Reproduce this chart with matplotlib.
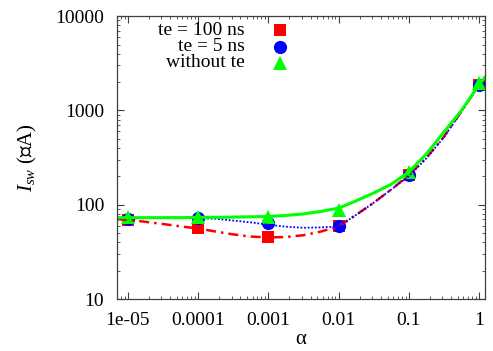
import numpy as np
import matplotlib
matplotlib.use('Agg')
import matplotlib.pyplot as plt
from matplotlib.ticker import LogLocator, NullFormatter, FixedLocator, FixedFormatter

plt.rcParams['font.family'] = ['Liberation Serif', 'DejaVu Serif']
plt.rcParams['mathtext.fontset'] = 'custom'
plt.rcParams['mathtext.it'] = 'Liberation Serif:italic'
plt.rcParams['mathtext.rm'] = 'Liberation Serif'

colors = {
    'te100': '#FF0000',
    'te5': '#0000FF',
    'none': '#00FF00',
    'frame': '#404040',
}

# measured points
alpha = [1e-5, 1e-4, 1e-3, 1e-2, 1e-1, 1]
alpha_labels = ['1e-05', '0.0001', '0.001', '0.01', '0.1', '1']
isw_te100 = [69, 57, 45, 59, 206, 1860]
isw_te5 = [70.5, 72, 64, 59, 206, 1860]
isw_none = [74, 74, 74, 88, 222, 1950]

# fitted curves at quarter decades
curve_x = [7e-6, 1e-5, 1.78e-5, 3.16e-5, 5.62e-5, 1e-4, 1.78e-4, 3.16e-4, 5.62e-4,
           1e-3, 1.78e-3, 3.16e-3, 5.62e-3, 1e-2, 1.78e-2, 3.16e-2, 5.62e-2,
           0.1, 0.178, 0.316, 0.562, 1.0, 1.22]
curve_te100 = [70.5, 69, 66, 62.5, 59, 56, 52, 48.5, 46,
               45, 45.5, 47.5, 52, 59, 78, 105, 145,
               206, 315, 525, 980, 1860, 2200]
curve_te5 = [71, 71.5, 72, 72, 72, 72, 71, 68, 65,
             61.5, 58.5, 57, 57.5, 59, 78, 105, 145,
             201, 310, 520, 970, 1860, 2200]
curve_none = [73, 73, 73, 73, 73, 73.5, 73.5, 74, 74.5,
              75, 77, 80, 85, 92, 110, 133, 165,
              222, 345, 590, 1000, 1870, 2260]

fig = plt.figure(figsize=(4.93, 3.51), dpi=100)
ax = fig.add_axes([0.237, 0.148, 0.747, 0.806])

ax.plot(alpha, isw_te100, linestyle='none', marker='s', markersize=9,
        color=colors['te100'], markeredgewidth=0)
ax.plot(alpha, isw_te5, linestyle='none', marker='o', markersize=9.5,
        color=colors['te5'], markeredgewidth=0)
ax.plot(alpha, isw_none, linestyle='none', marker='^', markersize=10,
        color=colors['none'], markeredgewidth=0)

ax.plot(curve_x, curve_te100, linestyle=(0, (4, 2, 1, 2)), linewidth=1.8,
        color=colors['te100'])
ax.plot(curve_x, curve_te5, linestyle=(0, (1, 1)), linewidth=1.3,
        color=colors['te5'])
ax.plot(curve_x, curve_none, linestyle='-', linewidth=2.2,
        color=colors['none'])

ax.set_xscale('log')
ax.set_yscale('log')
ax.set_xlim(7e-6, 1.22)
ax.set_ylim(10, 10000)

ax.xaxis.set_major_locator(FixedLocator(alpha))
ax.xaxis.set_major_formatter(FixedFormatter(alpha_labels))
ax.xaxis.set_minor_locator(LogLocator(base=10, subs=np.arange(2, 10), numticks=20))
ax.xaxis.set_minor_formatter(NullFormatter())
ax.yaxis.set_major_locator(FixedLocator([10, 100, 1000, 10000]))
ax.yaxis.set_major_formatter(FixedFormatter(['10', '100', '1000', '10000']))
ax.yaxis.set_minor_locator(LogLocator(base=10, subs=np.arange(2, 10), numticks=20))
ax.yaxis.set_minor_formatter(NullFormatter())

ax.tick_params(which='both', direction='in', top=True, right=True,
               color=colors['frame'], labelsize=14)
ax.tick_params(which='major', length=5, width=0.8, pad=9)
ax.tick_params(which='minor', length=2.5, width=0.6)
for s in ax.spines.values():
    s.set_color(colors['frame'])
    s.set_linewidth(0.9)

ax.set_xlabel('α', fontsize=15, labelpad=1)
ax.set_ylabel('$I_{sw}$ (∝A)', fontsize=15, labelpad=12)

# key, gnuplot style: right aligned text, marker on the right
labels = ['te = 100 ns', 'te = 5 ns', 'without te']
keys = [('s', colors['te100'], 9), ('o', colors['te5'], 9.5), ('^', colors['none'], 10)]
rows = [0.951, 0.892, 0.835]
for lab, (m, c, ms), yy in zip(labels, keys, rows):
    ax.text(0.348, yy, lab, transform=ax.transAxes, ha='right', va='center', fontsize=14)
    ax.plot([0.443], [yy], transform=ax.transAxes, marker=m, markersize=ms,
            color=c, markeredgewidth=0, linestyle='none', clip_on=False)

fig.savefig('out.png', dpi=100)
